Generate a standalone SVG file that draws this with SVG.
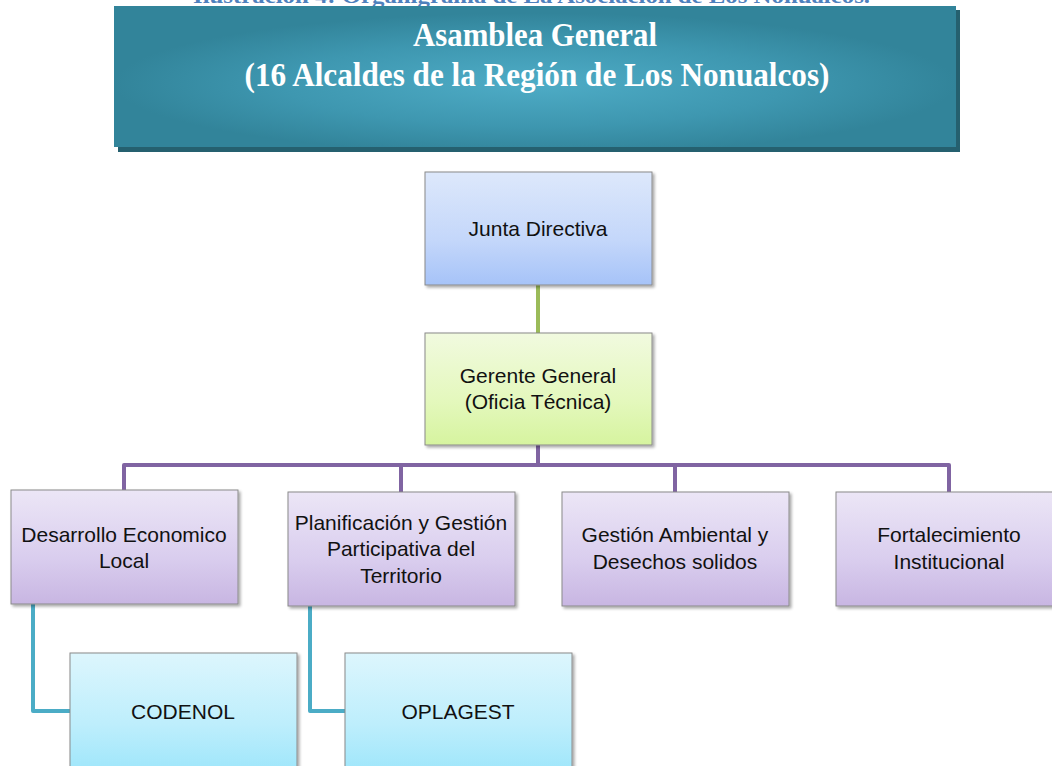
<svg xmlns="http://www.w3.org/2000/svg" width="1052" height="766" viewBox="0 0 1052 766">
<defs>
<radialGradient id="gBan" cx="0.5" cy="0.55" r="0.5">
<stop offset="0" stop-color="#4eacc6"/>
<stop offset="0.6" stop-color="#3e97b0"/>
<stop offset="1" stop-color="#32849a"/>
</radialGradient>
<linearGradient id="gBlue" x1="0" y1="0" x2="0" y2="1">
<stop offset="0" stop-color="#dde8fb"/>
<stop offset="0.6" stop-color="#c4d7fa"/>
<stop offset="1" stop-color="#a6c3f8"/>
</linearGradient>
<linearGradient id="gGreen" x1="0" y1="0" x2="0" y2="1">
<stop offset="0" stop-color="#f1fadf"/>
<stop offset="0.6" stop-color="#e4f8bd"/>
<stop offset="1" stop-color="#d6f49f"/>
</linearGradient>
<linearGradient id="gPurple" x1="0" y1="0" x2="0" y2="1">
<stop offset="0" stop-color="#ece6f6"/>
<stop offset="0.6" stop-color="#d9cdee"/>
<stop offset="1" stop-color="#c8b6e2"/>
</linearGradient>
<linearGradient id="gCyan" x1="0" y1="0" x2="0" y2="1">
<stop offset="0" stop-color="#ddf6fd"/>
<stop offset="0.6" stop-color="#bdeefc"/>
<stop offset="1" stop-color="#9ee6fb"/>
</linearGradient>
<filter id="sh" x="-10%" y="-10%" width="130%" height="130%">
<feGaussianBlur in="SourceAlpha" stdDeviation="1.5"/>
<feOffset dx="2" dy="2" result="b"/>
<feComponentTransfer><feFuncA type="linear" slope="0.35"/></feComponentTransfer>
<feMerge><feMergeNode/><feMergeNode in="SourceGraphic"/></feMerge>
</filter>
</defs>
<style>
.box{stroke:#8a8a8a;stroke-width:1;filter:url(#sh)}
.t{font-family:"Liberation Sans",Arial,sans-serif;font-size:21px;fill:#111;text-anchor:middle}
.ban{font-family:"Liberation Serif","Times New Roman",serif;font-weight:bold;font-size:33px;fill:#ffffff;text-anchor:middle}
.cap{font-family:"Liberation Serif","Times New Roman",serif;font-weight:bold;font-size:20px;fill:#4f81bd}
.cg{stroke:#9bbb59;stroke-width:4;fill:none}
.cp{stroke:#8064a2;stroke-width:4;fill:none;stroke-linejoin:round}
.cb{stroke:#4bacc6;stroke-width:4;fill:none;stroke-linejoin:round}
</style>
<rect width="1052" height="766" fill="#ffffff"/>
<text class="cap" x="193" y="3" textLength="677" lengthAdjust="spacingAndGlyphs">Ilustración 4: Organigrama de La Asociación de Los Nonualcos.</text>
<g id="connectors">
<line class="cg" x1="538" y1="285" x2="538" y2="333"/>
<path class="cp" d="M538 445 V465 M124 490 V465 H949 V492 M401 465 V492 M675 465 V492"/>
<path class="cb" d="M33 604 V711 H71"/>
<path class="cb" d="M310 606 V711 H346"/>
</g>
<g id="asamblea">
<rect x="118" y="10" width="842" height="142" fill="#25606f"/>
<rect x="114" y="6" width="842" height="141" fill="url(#gBan)"/>
<text class="ban" x="535" y="46" textLength="244" lengthAdjust="spacingAndGlyphs">Asamblea General</text>
<text class="ban" x="537" y="86" textLength="585" lengthAdjust="spacingAndGlyphs">(16 Alcaldes de la Región de Los Nonualcos)</text>
</g>
<g id="junta">
<rect class="box" x="425" y="172" width="227" height="113" fill="url(#gBlue)"/>
<text class="t" x="538" y="236">Junta Directiva</text>
</g>
<g id="gerente">
<rect class="box" x="425" y="333" width="227" height="112" fill="url(#gGreen)"/>
<text class="t" x="538" y="383">Gerente General</text>
<text class="t" x="538" y="409">(Oficia Técnica)</text>
</g>
<g id="desarrollo">
<rect class="box" x="11" y="490" width="227" height="114" fill="url(#gPurple)"/>
<text class="t" x="124" y="542">Desarrollo Economico</text>
<text class="t" x="124" y="568">Local</text>
</g>
<g id="planificacion">
<rect class="box" x="288" y="492" width="227" height="114" fill="url(#gPurple)"/>
<text class="t" x="401" y="530">Planificación y Gestión</text>
<text class="t" x="401" y="556">Participativa del</text>
<text class="t" x="401" y="583">Territorio</text>
</g>
<g id="gestion">
<rect class="box" x="562" y="492" width="227" height="114" fill="url(#gPurple)"/>
<text class="t" x="675" y="542">Gestión Ambiental y</text>
<text class="t" x="675" y="569">Desechos solidos</text>
</g>
<g id="fortalecimiento">
<rect class="box" x="836" y="492" width="227" height="114" fill="url(#gPurple)"/>
<text class="t" x="949" y="542">Fortalecimiento</text>
<text class="t" x="949" y="569">Institucional</text>
</g>
<g id="codenol">
<rect class="box" x="70" y="653" width="227" height="120" fill="url(#gCyan)"/>
<text class="t" x="183" y="719">CODENOL</text>
</g>
<g id="oplagest">
<rect class="box" x="345" y="653" width="227" height="120" fill="url(#gCyan)"/>
<text class="t" x="458" y="719">OPLAGEST</text>
</g>
</svg>
